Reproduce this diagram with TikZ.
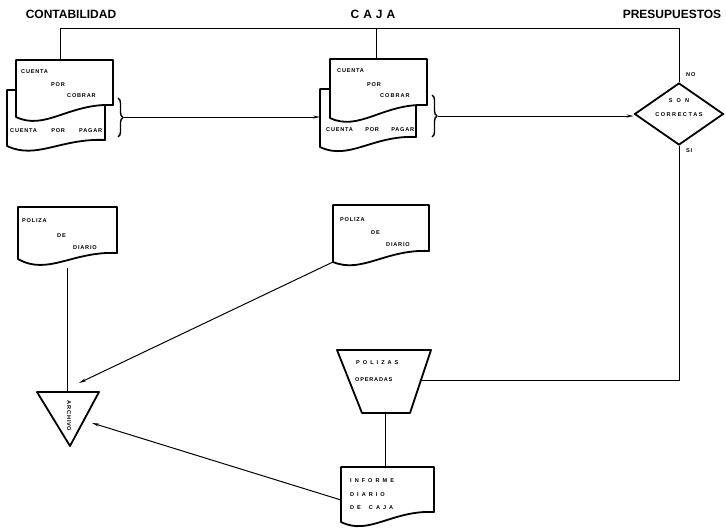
\documentclass[tikz,border=0pt]{standalone}
\usepackage{fontspec}
\setmainfont{Liberation Sans}
\newfontfamily\lsp[LetterSpace=14]{Liberation Sans}
\usetikzlibrary{shapes.geometric,decorations.pathreplacing,arrows.meta}
% document outline: x1 ytop x2 yright yleft dip
\newcommand\docpath[6]{(#1,#2) -- (#3,#2) -- (#3,#4) .. controls ({#1+0.55*(#3-#1)},{#4-2}) and ({#1+0.3*(#3-#1)},{#5+#6}) .. (#1,#5) -- cycle}
\tikzset{
  shp/.style={line width=1.8pt, fill=white, line join=round},
  conn/.style={line width=1pt},
  arr/.style={conn,-{Stealth[length=7pt,width=3pt]}},
  hdr/.style={font=\bfseries\fontsize{12}{12}\selectfont, inner sep=0},
  dtx/.style={font=\lsp\bfseries\fontsize{5.6}{6}\selectfont, inner sep=0, anchor=west},
  brc/.style={line width=1.4pt, decorate, decoration={brace, amplitude=5pt}},
}
\begin{document}
\begin{tikzpicture}[x=1pt,y=-1pt]
\useasboundingbox (0,0) rectangle (726,530);

% headers
\node[hdr] (hcont) at (71,14) {CONTABILIDAD};
\node[hdr] (hcaja) at (373,14) {C\hspace{4pt}A\hspace{4pt}J\hspace{4pt}A};
\node[hdr] (hpres) at (672,14) {PRESUPUESTOS};

% top connector line
\coordinate (tl) at (60,28);
\coordinate (tm) at (376,28);
\coordinate (tr) at (679,28);

% ---- CONTABILIDAD stack
\draw[shp] \docpath{7}{90}{105}{140}{146}{14};
\draw[shp] \docpath{16}{60}{113}{105}{117}{14};
\coordinate (ctop) at (60,60);
\node[dtx] (c1) at (21,72) {CUENTA};
\node[dtx] (c2) at (51,85) {POR};
\node[dtx] (c3) at (67,96) {COBRAR};
\node[dtx] (c4) at (10,131) {\makebox[92pt][s]{CUENTA\hfill POR\hfill PAGAR}};
\draw[brc] (118,98) -- (118,137);
\coordinate (cbr) at (124,117);

% ---- CAJA stack
\draw[shp] \docpath{320}{89}{416}{137}{147}{14};
\draw[shp] \docpath{330}{59}{427}{105}{118}{14};
\coordinate (jtop) at (376,59);
\coordinate (jback) at (320,117);
\node[dtx] (j1) at (337,71) {CUENTA};
\node[dtx] (j2) at (367,85) {POR};
\node[dtx] (j3) at (380,96) {C\hspace{1pt}O\hspace{1pt}B\hspace{1pt}R\hspace{1pt}A\hspace{1pt}R};
\node[dtx] (j4) at (326,130) {\makebox[88pt][s]{CUENTA\hfill POR\hfill PAGAR}};
\draw[brc] (432,95) -- (432,137);
\coordinate (jbr) at (438,116);

% ---- decision diamond
\node[diamond, draw, line width=1.8pt, inner sep=0, minimum width=89pt, minimum height=62pt] (dec) at (679,114) {};
\node[dtx, anchor=center] (d1) at (679,101) {S\hspace{4pt}O\hspace{4pt}N};
\node[dtx, anchor=center] (d2) at (679,115) {C\hspace{1.5pt}O\hspace{1.5pt}R\hspace{1.5pt}R\hspace{1.5pt}E\hspace{1.5pt}C\hspace{1.5pt}T\hspace{1.5pt}A\hspace{1.5pt}S};
\node[dtx] (no) at (686,75) {NO};
\node[dtx] (si) at (686,151) {SI};

% ---- POLIZA DE DIARIO (contabilidad)
\draw[shp] \docpath{18}{207}{117}{253}{259}{17};
\coordinate (pbot) at (67,268);
\node[dtx] (p1) at (22,221) {POLIZA};
\node[dtx] (p2) at (57,236) {DE};
\node[dtx] (p3) at (73,248) {DIARIO};

% ---- POLIZA DE DIARIO (caja)
\draw[shp] \docpath{333}{205}{429}{251}{262}{12};
\coordinate (qbot) at (333,262);
\node[dtx] (q1) at (340,220) {POLIZA};
\node[dtx] (q2) at (371,233) {DE};
\node[dtx] (q3) at (386,245) {DIARIO};

% ---- archive triangle
\draw[shp] (37,392) -- (99,392) -- (70,446) -- cycle;
\coordinate (ttop) at (67,392);
\coordinate (tleft) at (79,383);
\coordinate (tright) at (92,423);
\node[dtx, anchor=center, rotate=-90] (tx) at (69,416) {ARCHIVO};

% ---- POLIZAS OPERADAS trapezoid
\draw[shp] (337,350) -- (431,350) -- (410,413) -- (362,413) -- cycle;
\coordinate (zr) at (421,380);
\coordinate (zb) at (385,413);
\node[dtx] (z1) at (356,363) {P\hspace{3pt}O\hspace{3pt}L\hspace{3pt}I\hspace{3pt}Z\hspace{3pt}A\hspace{3pt}S};
\node[dtx] (z2) at (355,380) {OPERADAS};

% ---- INFORME DIARIO DE CAJA
\draw[shp] \docpath{341}{467}{434}{512}{522}{14};
\coordinate (itop) at (385,467);
\coordinate (ileft) at (341,500);
\node[dtx] (i1) at (350,481) {I\hspace{3pt}N\hspace{3pt}F\hspace{3pt}O\hspace{3pt}R\hspace{3pt}M\hspace{3pt}E};
\node[dtx] (i2) at (350,495) {D\hspace{3pt}I\hspace{3pt}A\hspace{3pt}R\hspace{3pt}I\hspace{3pt}O};
\node[dtx] (i3) at (350,508) {D\hspace{3pt}E\hspace{8pt}C\hspace{3pt}A\hspace{3pt}J\hspace{3pt}A};

% ---- connectors
\draw[conn] (ctop) -- (tl) -- (tr) -- (dec.north);
\draw[conn] (tm) -- (jtop);
\draw[arr] (cbr) -- (jback);
\draw[arr] (jbr) -- (dec.west |- jbr);
\draw[conn] (dec.south) -- (dec.south |- zr) -- (zr);
\draw[conn] (zb) -- (itop);
\draw[conn] (pbot) -- (ttop);
\draw[arr] (qbot) -- (tleft);
\draw[arr] (ileft) -- (tright);
\end{tikzpicture}
\end{document}
